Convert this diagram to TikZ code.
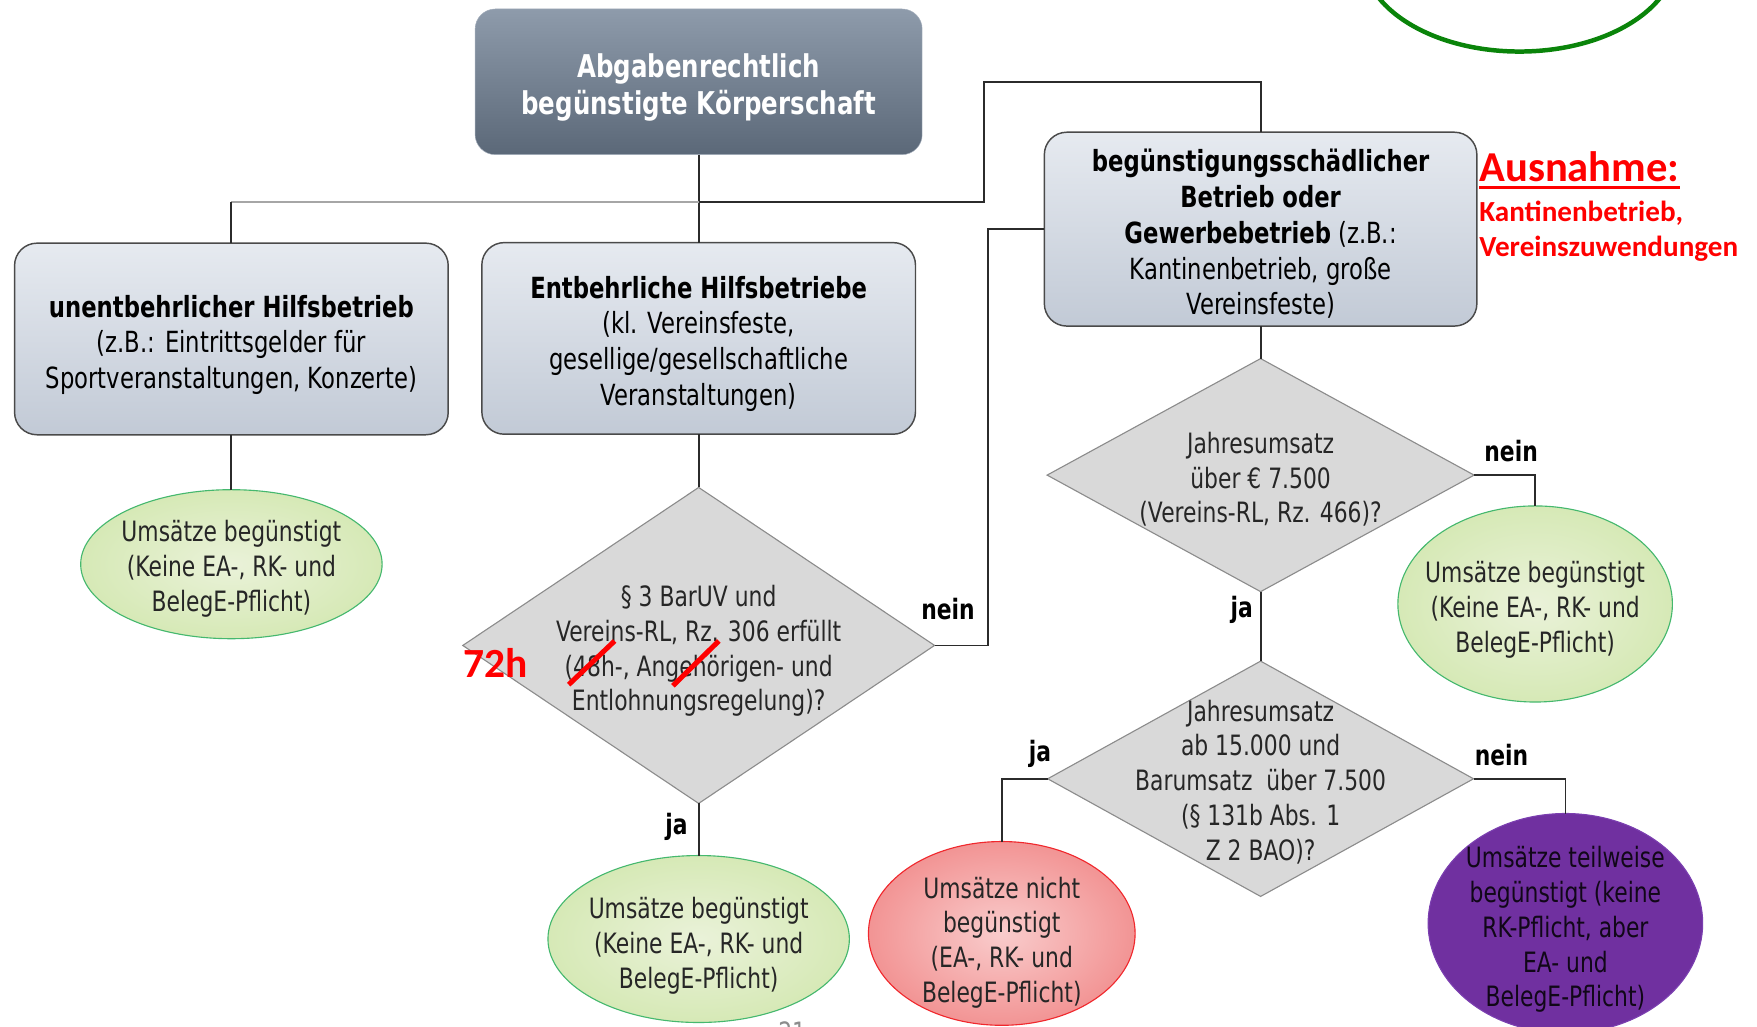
\documentclass[tikz,border=0pt]{standalone}
\usepackage{fontspec}
\setmainfont{DejaVu Sans}[FakeStretch=0.78]
\newfontfamily\calfont{Carlito}
\usetikzlibrary{shapes.geometric}
\usetikzlibrary{calc}

\definecolor{headtop}{HTML}{8E9BAB}
\definecolor{headbot}{HTML}{5B6878}
\definecolor{boxtop}{HTML}{E6EAF0}
\definecolor{boxbot}{HTML}{C2CAD6}
\definecolor{boxline}{HTML}{4A4A4A}
\definecolor{diafill}{HTML}{D9D9D9}
\definecolor{dialine}{HTML}{8C8C8C}
\definecolor{yesin}{HTML}{EAF2D9}
\definecolor{yesout}{HTML}{D6E9B6}
\definecolor{yesline}{HTML}{45B86E}
\definecolor{noin}{HTML}{F9CCCC}
\definecolor{noout}{HTML}{F29494}
\definecolor{noline}{HTML}{F0282D}
\definecolor{partfill}{HTML}{7030A0}
\definecolor{partline}{HTML}{7B3FB0}
\definecolor{conline}{HTML}{2B2B2B}
\definecolor{lightline}{HTML}{A6A6A6}
\definecolor{markred}{HTML}{FF0000}
\definecolor{ringgreen}{HTML}{0A840A}
\definecolor{figtext}{HTML}{262626}

\newcommand{\headtxt}{\fontsize{28}{33}\selectfont\bfseries}
\newcommand{\boxtxt}{\fontsize{26}{32}\selectfont}
\newcommand{\figtxt}{\fontsize{25}{31}\selectfont}
\newcommand{\lbltxt}{\fontsize{25}{30}\selectfont\bfseries}
% taller first line, pushes the lines a bit down in their shape
\newcommand{\firstline}[1]{\rule{0pt}{#1}}

\tikzset{
  head/.style={rounded corners=18pt, top color=headtop, bottom color=headbot, draw=headtop!80!white,
    text=white, font=\headtxt, align=center, text depth=0pt,
    minimum width=399pt, minimum height=130pt, inner sep=0pt, outer sep=0pt},
  box/.style={rounded corners=20pt, top color=boxtop, bottom color=boxbot, draw=boxline, line width=1.3pt,
    font=\boxtxt, align=center, text depth=0pt,
    minimum width=387pt, minimum height=171pt, inner sep=0pt, outer sep=0pt},
  dia/.style={diamond, draw=dialine, line width=1pt, fill=diafill, text=figtext, font=\figtxt, align=center,
    text depth=0pt, inner xsep=-50pt, inner ysep=-30pt, outer sep=0pt},
  yes/.style={ellipse, draw=yesline, line width=1pt, inner color=yesin, outer color=yesout, text=figtext,
    font=\figtxt, align=center, text depth=0pt, inner sep=-20pt, outer sep=0pt},
  no/.style={ellipse, draw=noline, line width=1pt, inner color=noin, outer color=noout, text=figtext,
    font=\figtxt, align=center, text depth=0pt, inner sep=-10pt, outer sep=0pt},
  part/.style={ellipse, draw=partline, line width=1pt, fill=partfill, text=black!85!partfill,
    font=\figtxt, align=center, text depth=0pt, inner sep=-10pt, outer sep=0pt},
  con/.style={draw=conline, line width=1.6pt},
  lbl/.style={font=\lbltxt, inner sep=0pt, anchor=base west},
  rednote/.style={text=markred, font=\calfont\bfseries, inner sep=0pt, anchor=base west},
  strike/.style={draw=markred, line width=4.5pt}
}

\begin{document}
\begin{tikzpicture}[x=1pt, y=-1pt]
  \useasboundingbox (0,0) rectangle (1568,916);

  \draw[ringgreen, line width=4pt] (1356,-40) ellipse [x radius=140pt, y radius=86pt];

  \node[head] (top) at (623.5,73) {\firstline{25.5pt}Abgabenrechtlich\\begünstigte Körperschaft};
  \node[box] (unent) at (206.5,302.5) {\firstline{25pt}\textbf{unentbehrlicher Hilfsbetrieb}\\(z.B.: Eintrittsgelder für\\Sportveranstaltungen, Konzerte)};
  \node[box] (entb) at (623.5,302) {\firstline{24pt}\textbf{Entbehrliche Hilfsbetriebe}\\(kl. Vereinsfeste,\\gesellige/gesellschaftliche\\Veranstaltungen)};
  \node[box, minimum width=386pt, minimum height=173pt] (schad) at (1125,204.5) {\firstline{25pt}\textbf{begünstigungsschädlicher}\\\textbf{Betrieb oder}\\\textbf{Gewerbebetrieb} (z.B.:\\Kantinenbetrieb, große\\Vereinsfeste)};

  \node[yes, minimum width=269pt, minimum height=133pt] (ell1) at (206.5,503.5) {\firstline{22pt}Umsätze begünstigt\\(Keine EA-, RK- und\\BelegE-Pflicht)};
  \node[dia, minimum width=421pt, minimum height=282pt] (d1) at (623.5,576) {\firstline{24pt}§ 3 BarUV und\\Vereins-RL, Rz. 306 erfüllt\\(48h-, Angehörigen- und\\Entlohnungsregelung)?};
  \node[yes, minimum width=269pt, minimum height=149pt] (ellb) at (623.5,838) {\firstline{26pt}Umsätze begünstigt\\(Keine EA-, RK- und\\BelegE-Pflicht)};

  \node[dia, minimum width=381pt, minimum height=208pt] (d2) at (1125,424) {\firstline{23pt}Jahresumsatz\\über € 7.500\\(Vereins-RL, Rz. 466)?};
  \node[yes, minimum width=245pt, minimum height=175pt] (ellr) at (1370,539) {\firstline{24pt}Umsätze begünstigt\\(Keine EA-, RK- und\\BelegE-Pflicht)};
  \node[dia, minimum width=380pt, minimum height=210pt] (d3) at (1125,695) {\firstline{21pt}Jahresumsatz\\ab 15.000 und\\Barumsatz\ \ über 7.500\\(§ 131b Abs. 1\\Z 2 BAO)?};
  \node[no, minimum width=238pt, minimum height=164pt] (red) at (894,833) {\firstline{30pt}Umsätze nicht\\begünstigt\\(EA-, RK- und\\BelegE-Pflicht)};
  \node[part, minimum width=245pt, minimum height=196pt] (purp) at (1397,824) {\firstline{25pt}Umsätze teilweise\\begünstigt (keine\\RK-Pflicht, aber\\EA- und\\BelegE-Pflicht)};

  \coordinate (jtop) at (623.5,180);
  \coordinate (jl) at (unent.north |- jtop);
  \coordinate (jr) at (878,73);

  \draw[con] (top.south) -- (entb.north);
  \draw[draw=lightline, line width=1.6pt] (jtop) -- (jl);
  \draw[con] (jl) -- (unent.north);
  \draw[con] (jtop) -| (jr) -| (schad.north);
  \draw[con] (unent.south) -- (ell1.north);
  \draw[con] (entb.south) -- (d1.north);
  \draw[con] (d1.south) -- (ellb.north);
  \draw[con] (d1.east) -| ([xshift=-50pt]schad.west) -- (schad.west);
  \draw[con] (schad.south) -- (d2.north);
  \draw[con] (d2.east) -| (ellr.north);
  \draw[con] (d2.south) -- (d3.north);
  \draw[con] (d3.west) -| (red.north);
  \draw[con] (d3.east) -| (purp.north);

  \node[lbl] (nein1) at ([shift={(-12,-23)}]d1.east) {nein};
  \node[lbl] (ja1) at ([shift={(-30,28)}]d1.south) {ja};
  \node[lbl] (nein2) at ([shift={(9,-12)}]d2.east) {nein};
  \node[lbl] (ja2) at ([shift={(-27,23)}]d2.south) {ja};
  \node[lbl] (ja3) at ([shift={(-17,-15)}]d3.west) {ja};
  \node[lbl] (nein3) at ([shift={(1,-12)}]d3.east) {nein};

  \draw[strike] ($(d1)+(-116,35)$) -- ($(d1)+(-75,-4)$);
  \draw[strike] ($(d1)+(-23,36)$) -- ($(d1)+(18,-4)$);
  \node[rednote, font=\calfont\bfseries\fontsize{37}{40}\selectfont] (hours) at (413,605) {72h};

  \node[rednote, font=\calfont\bfseries\fontsize{38}{42}\selectfont] (aus) at (1320,162) {Ausnahme:};
  \draw[markred, line width=2.5pt] ([yshift=-5pt]aus.base west) -- ([yshift=-5pt]aus.base east);
  \node[rednote, font=\calfont\bfseries\fontsize{26}{30}\selectfont] (ausa) at (1320,198) {Kantinenbetrieb,};
  \node[rednote, font=\calfont\bfseries\fontsize{26}{30}\selectfont] (ausb) at (1320,229) {Vereinszuwendungen};

  \node[text=black!45, font=\figtxt, anchor=base] (pg) at (707,930) {21};
\end{tikzpicture}
\end{document}
